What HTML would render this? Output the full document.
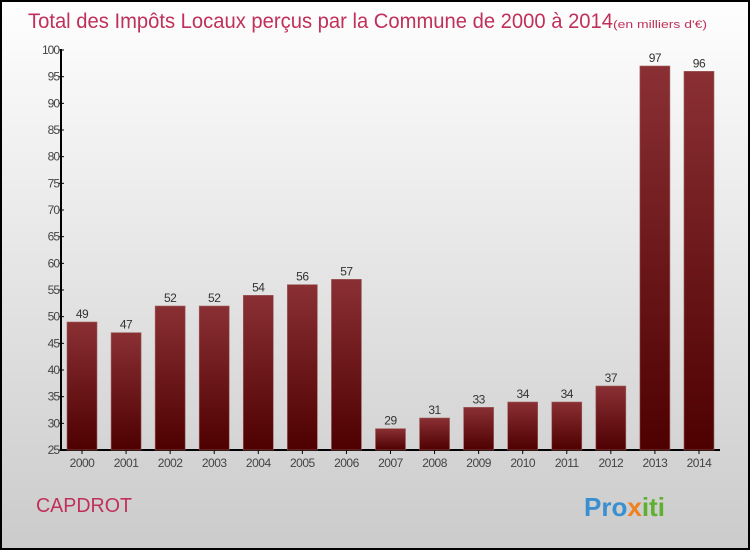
<!DOCTYPE html>
<html><head><meta charset="utf-8"><style>
html,body{margin:0;padding:0}
body{width:750px;height:550px;overflow:hidden;font-family:"Liberation Sans",sans-serif}
#frame{position:absolute;left:0;top:0;width:746px;height:546px;border:2px solid #000;background:linear-gradient(#fefefe,#cbcbcb)}
</style></head><body>
<div id="frame">
<svg id="svg" width="746" height="546" style="position:absolute;left:0;top:0">
<defs><linearGradient id="bg" x1="0" y1="0" x2="0" y2="1"><stop offset="0" stop-color="#8a3034"/><stop offset="1" stop-color="#4e0000"/></linearGradient></defs>
<text x="26" y="26" font-size="21" fill="#c0305a" textLength="585" lengthAdjust="spacingAndGlyphs">Total des Impôts Locaux perçus par la Commune de 2000 à 2014</text>
<text x="611" y="26" font-size="11" fill="#c0305a" textLength="94" lengthAdjust="spacingAndGlyphs">(en milliers d'€)</text>
<text x="34" y="510" font-size="20" fill="#c0305a" textLength="96" lengthAdjust="spacingAndGlyphs">CAPDROT</text>
<text x="582" y="514" font-size="26" font-weight="bold" fill="#3a8fd0">Pro<tspan fill="#f08020">x</tspan><tspan fill="#60b030">iti</tspan></text>
<g id="plot"></g>
</svg></div>
<script>
const years=["2000","2001","2002","2003","2004","2005","2006","2007","2008","2009","2010","2011","2012","2013","2014"];
const values=[49,47,52,52,54,56,57,29,31,33,34,34,37,97,96];
const yTicks=[25,30,35,40,45,50,55,60,65,70,75,80,85,90,95,100];
const NS="http://www.w3.org/2000/svg";
const g=document.getElementById('plot');
function y(v){return 448-(v-25)*400/75;}
function x(i){return 80+i*44.07;}
function mk(t,a){const e=document.createElementNS(NS,t);for(const k in a)e.setAttribute(k,a[k]);g.appendChild(e);return e;}
const ax=mk('line',{x1:59,y1:y(100)-1,x2:59,y2:449,stroke:'#000','stroke-width':2});


const bx=mk('line',{x1:58,y1:448,x2:718,y2:448,stroke:'#000','stroke-width':2});


yTicks.forEach(v=>{
 const t=mk('line',{x1:57,y1:y(v),x2:62,y2:y(v),stroke:'#000'});
 
 
 const l=mk('text',{x:57,y:y(v)+4,'font-size':12,'text-anchor':'end',fill:'#444','letter-spacing':'-1'});
 l.textContent=v;
 
 
});
values.forEach((v,i)=>{
 const r=mk('rect',{x:x(i)-15,y:y(v),width:30,height:448-y(v),fill:'url(#bg)',stroke:'#a06060','stroke-width':0.6});
 
 
 const t=mk('text',{x:x(i),y:y(v)-4,'font-size':12,'text-anchor':'middle',fill:'#333','letter-spacing':'-0.5'});
 t.textContent=v;
 
 
 const c=mk('text',{x:x(i),y:465,'font-size':12,'text-anchor':'middle',fill:'#444','letter-spacing':'-0.5'});
 c.textContent=years[i];
 
 
 const k=mk('line',{x1:x(i),y1:448,x2:x(i),y2:452,stroke:'#000'});
 
 
});
</script>
</body></html>
